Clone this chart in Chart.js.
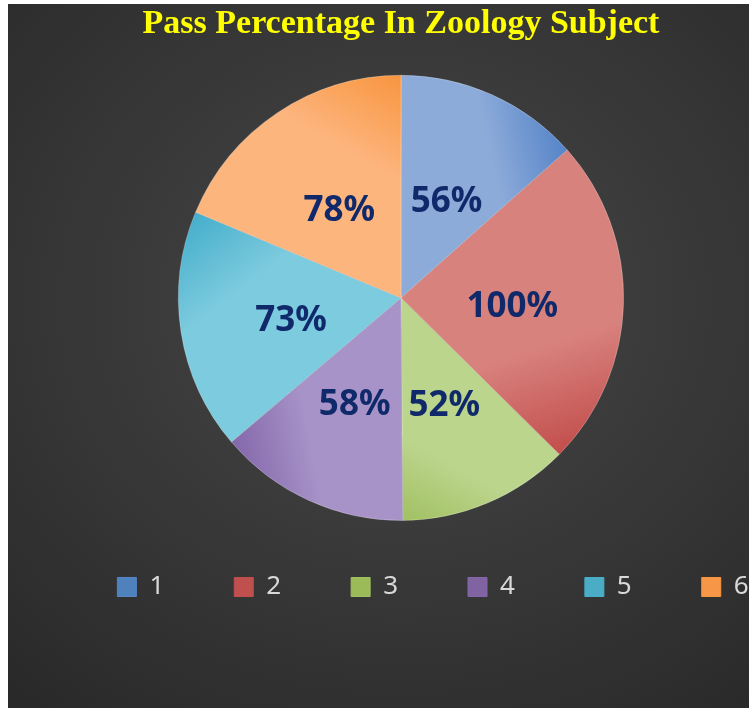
<!DOCTYPE html>
<html>
<head>
<meta charset="utf-8">
<title>Pass Percentage In Zoology Subject</title>
<script src="https://cdn.jsdelivr.net/npm/chart.js@4.4.1/dist/chart.umd.min.js"></script>
<style>
  html, body { margin: 0; padding: 0; background: #fff; overflow: hidden; }
  #wrap {
    position: absolute; left: 8px; top: 4px; width: 741px; height: 704px; overflow: hidden;
    background: radial-gradient(ellipse 80% 75% at 53% 42%, #474747 0%, #3a3a3a 45%, #292929 100%);
  }
  #pieChart { position: absolute; left: 3px; top: 0; }
</style>
</head>
<body>
<div id="wrap"><canvas id="pieChart" width="780" height="704"></canvas></div>
<script>
const subjects = ['1', '2', '3', '4', '5', '6'];
const passPercent = [56, 100, 52, 58, 73, 78];

// office style colours: light body, darker towards the slice end edge
const lightColors = ['#8dabd9', '#d8827e', '#bcd58d', '#a793c7', '#7dcbde', '#fdb57e'];
const darkColors = ['#5584c8', '#c24e4b', '#a1c062', '#8467ab', '#45aecb', '#f8953f'];
const boxColors = ['#4f81bd', '#c0504d', '#9bbb59', '#8064a2', '#4bacc6', '#f79646'];

function sliceFill(context) {
    const i = context.dataIndex;
    const chart = context.chart;
    const area = chart.chartArea;
    if (!area || i === undefined) return boxColors[i] || boxColors[0];
    const total = passPercent.reduce((a, b) => a + b, 0);
    let start = -Math.PI / 2;
    for (let k = 0; k < i; k++) start += passPercent[k] / total * Math.PI * 2;
    const end = start + passPercent[i] / total * Math.PI * 2;
    const cx = (area.left + area.right) / 2;
    const cy = (area.top + area.bottom) / 2;
    const r = Math.min(area.width, area.height) / 2;
    const g = chart.ctx.createLinearGradient(
        cx + r * 0.5 * Math.cos(start), cy + r * 0.5 * Math.sin(start),
        cx + r * Math.cos(end), cy + r * Math.sin(end));
    g.addColorStop(0, lightColors[i]);
    g.addColorStop(0.55, lightColors[i]);
    g.addColorStop(1, darkColors[i]);
    return g;
}

// percentage labels in the middle of each slice
const sliceLabels = {
    id: 'sliceLabels',
    afterDatasetsDraw(chart) {
        const c = chart.ctx;
        const meta = chart.getDatasetMeta(0);
        c.save();
        c.font = 'bold 35px "Noto Sans"';
        c.fillStyle = '#10296a';
        c.textAlign = 'center';
        c.textBaseline = 'middle';
        meta.data.forEach((arc, i) => {
            const p = arc.tooltipPosition();
            c.fillText(passPercent[i] + '%', p.x, p.y + 6);
        });
        c.restore();
    }
};

// nudge the legend to where the original sits
const legendShift = {
    id: 'legendShift',
    afterLayout(chart) {
        const lg = chart.legend;
        if (!lg) return;
        lg.left += 32; lg.right += 32;
        lg.top -= 17; lg.bottom -= 17;
    }
};

const ctx = document.getElementById('pieChart').getContext('2d');
new Chart(ctx, {
    type: 'pie',
    data: {
        labels: subjects,
        datasets: [{
            data: passPercent,
            backgroundColor: sliceFill,
            borderColor: 'rgba(255,255,255,0.25)',
            borderWidth: 1
        }]
    },
    options: {
        responsive: false,
        animation: false,
        layout: { padding: { left: 0, right: 0, top: 0, bottom: 81 } },
        plugins: {
            title: {
                display: true,
                text: 'Pass Percentage In Zoology Subject',
                color: '#ffff00',
                font: { family: '"Liberation Serif"', size: 34, weight: 'bold' },
                padding: { top: 0, bottom: 30 }
            },
            legend: {
                position: 'bottom',
                labels: {
                    color: '#d9d9d9',
                    font: { family: '"Noto Sans"', size: 26 },
                    boxWidth: 19,
                    boxHeight: 19,
                    padding: 70,
                    generateLabels: chart => subjects.map((s, i) => ({
                        text: s,
                        fillStyle: boxColors[i],
                        strokeStyle: darkColors[i],
                        fontColor: '#d9d9d9',
                        lineWidth: 1,
                        hidden: false,
                        index: i
                    }))
                }
            },
            tooltip: { enabled: false }
        }
    },
    plugins: [sliceLabels, legendShift]
});
</script>
</body>
</html>
